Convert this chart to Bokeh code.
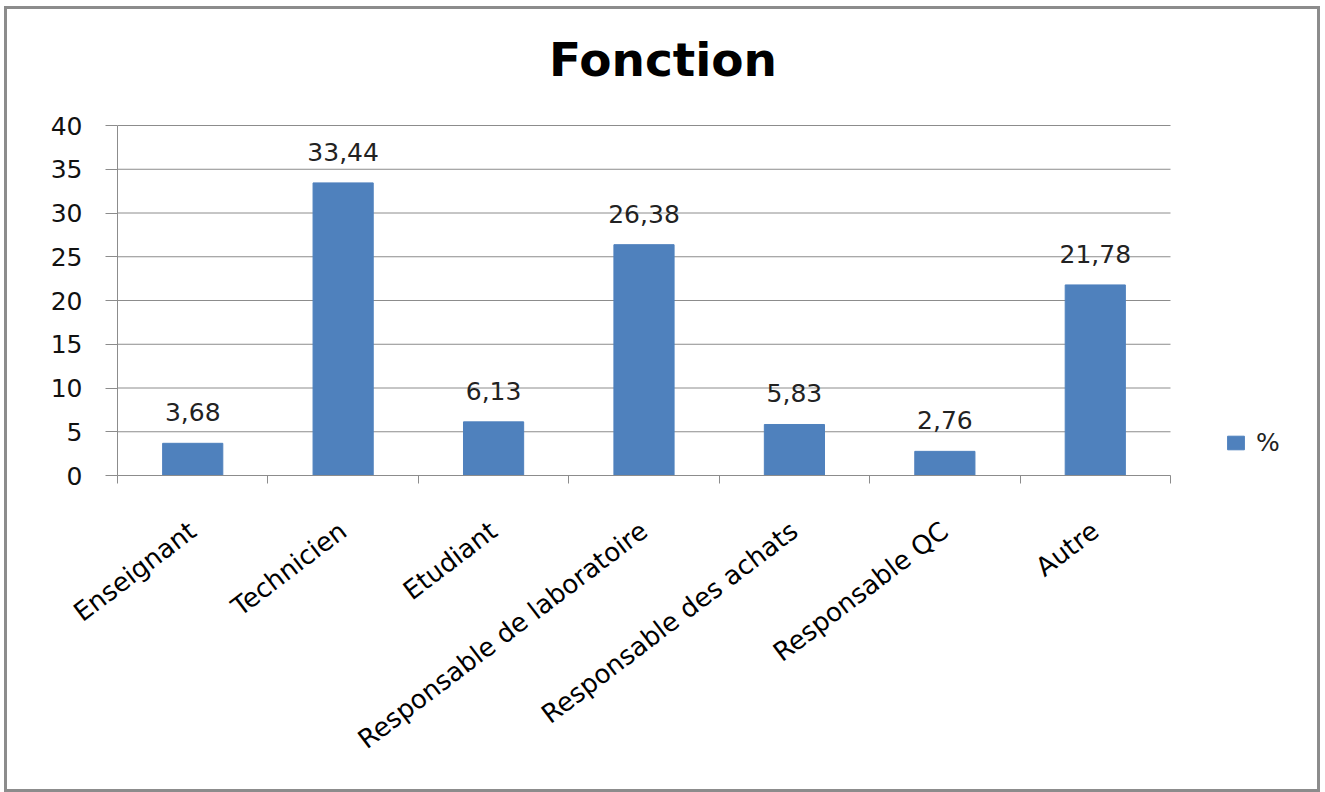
from bokeh.plotting import figure
from bokeh.models import (ColumnDataSource, FixedTicker, Legend, LegendItem, Range1d, Label)
from bokeh.embed import file_html
from bokeh.resources import INLINE
from bokeh.core.properties import value

categories = ["Enseignant", "Technicien", "Etudiant", "Responsable de laboratoire",
              "Responsable des achats", "Responsable QC", "Autre"]
values = [3.68, 33.44, 6.13, 26.38, 5.83, 2.76, 21.78]
value_labels = ["3,68", "33,44", "6,13", "26,38", "5,83", "2,76", "21,78"]
y_ticks = [0, 5, 10, 15, 20, 25, 30, 35, 40]
series_name = "%"
title_text = "Fonction"

FONT = "DejaVu Sans"
BLUE = "#4F81BD"
GRID = "#8c8c8c"

n = len(categories)
y_max = y_ticks[-1]
xs = [i + 0.5 for i in range(n)]
src = ColumnDataSource(dict(x=xs, top=values, lab=value_labels, cat=categories))

# layout: bar area is 1053 x 350 px; the frame extends right (legend) and up (title)
AREA_W, FRAME_W = 1053, 1200
AREA_H, FRAME_H = 350, 466
W, H = 1316, 786
p = figure(width=W, height=H, output_backend="svg", toolbar_location=None,
           x_range=Range1d(0, n * FRAME_W / AREA_W),
           y_range=Range1d(0, y_max * FRAME_H / AREA_H),
           min_border_left=110, min_border_right=W - 110 - FRAME_W,
           min_border_top=0, min_border_bottom=H - FRAME_H)
p.styles = {"border": "3px solid #8c8c8c", "margin-left": "4px", "margin-top": "6px"}
p.outline_line_color = None
p.background_fill_color = "white"
p.border_fill_color = "white"

title = Label(x=AREA_W / 2 + 19, y=AREA_H + 66, x_units="screen", y_units="screen",
              text=title_text, text_font=FONT, text_font_size="47px",
              text_font_style="bold", text_align="center",
              text_baseline="alphabetic", text_color="#000000")
p.add_layout(title)

# horizontal grid lines limited to the bar area
p.segment(x0=0, x1=n, y0=y_ticks, y1=y_ticks, line_color=GRID, line_width=1)

r = p.vbar(x="x", top="top", width=0.4, bottom=0, source=src,
           fill_color=BLUE, line_color=BLUE)

p.text(x="x", y="top", text="lab", source=src, text_font=value(FONT),
       text_font_size="25px", text_align="center", text_baseline="bottom",
       y_offset=-22, text_color="#222222")

# x axis
xa = p.xaxis[0]
xa.bounds = (0, n)
xa.ticker = FixedTicker(ticks=xs, minor_ticks=list(range(n + 1)))
xa.major_label_overrides = {x: c for x, c in zip(xs, categories)}
xa.major_tick_line_color = None
xa.minor_tick_line_color = GRID
xa.minor_tick_out = 8
xa.minor_tick_in = 0
xa.axis_line_color = GRID
xa.major_label_orientation = 0.65
xa.major_label_text_font = FONT
xa.major_label_text_font_size = "26px"
xa.major_label_text_color = "#000000"
xa.major_label_standoff = 44

# y axis
ya = p.yaxis[0]
ya.bounds = (0, y_max)
ya.ticker = FixedTicker(ticks=y_ticks)
ya.major_tick_line_color = GRID
ya.major_tick_out = 12
ya.major_tick_in = 0
ya.minor_tick_line_color = None
ya.axis_line_color = GRID
ya.major_label_text_font = FONT
ya.major_label_text_font_size = "25px"
ya.major_label_text_color = "#111111"
ya.major_label_standoff = 23

p.xgrid.grid_line_color = None
p.ygrid.grid_line_color = None

legend = Legend(items=[LegendItem(label=series_name, renderers=[r])],
                location=(1108, 18), orientation="vertical",
                label_text_font=FONT, label_text_font_size="25px",
                label_text_color="#222222", glyph_width=21, glyph_height=17,
                padding=4, margin=0, border_line_color=None,
                background_fill_alpha=0, label_standoff=10)
p.add_layout(legend)

open("out.html", "w").write(file_html(p, INLINE))
